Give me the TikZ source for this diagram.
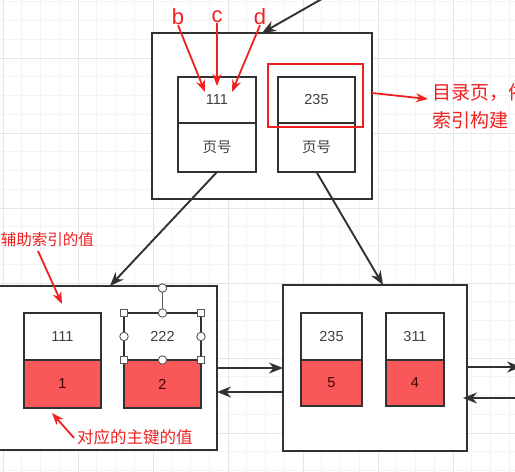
\documentclass[tikz,border=0pt]{standalone}
\usepackage{fontspec}
\setmainfont{Liberation Sans}
\newfontfamily\cjk{Noto Sans CJK SC}
\usetikzlibrary{arrows.meta,calc}
\definecolor{redfill}{RGB}{250,88,88}
\definecolor{annot}{RGB}{240,32,32}
\definecolor{edge}{RGB}{50,50,50}
\definecolor{minorgrid}{RGB}{244,244,244}
\definecolor{majorgrid}{RGB}{230,230,230}
\tikzset{
  frame/.style={draw=edge, line width=2.3pt, fill=white, inner sep=0pt, outer sep=0pt},
  cell/.style={draw=edge, line width=2pt, fill=white, inner sep=0pt, outer sep=0pt,
    font=\fontsize{14.5}{16}\selectfont, text=black!75},
  redcell/.style={cell, fill=redfill, text=black!75!red},
  link/.style={draw=edge, line width=1.9pt, -{Stealth[length=14pt,width=11pt]}},
  notetext/.style={text=annot, inner sep=0pt},
  noteline/.style={draw=annot, line width=1.8pt, -{Stealth[length=12pt,width=9pt]}},
  letter/.style={text=annot, font=\fontsize{22}{22}\selectfont, inner sep=0pt},
  hsq/.style={draw=black!65, fill=white, line width=0.9pt, minimum size=7.5pt, inner sep=0pt},
  hcirc/.style={draw=black!65, fill=white, line width=0.9pt, circle, minimum size=8.5pt, inner sep=0pt},
}
\begin{document}
\begin{tikzpicture}[x=1pt,y=-1pt]
\useasboundingbox (0,0) rectangle (515,472);
\clip (0,0) rectangle (515,472);
\fill[white] (0,0) rectangle (515,472);
% background grid
\foreach \i in {0,...,28} \draw[minorgrid, line width=0.6pt] ({3+\i*18.75},0) -- ++(0,472);
\foreach \i in {0,...,26} \draw[minorgrid, line width=0.6pt] (0,{-17+\i*18.75}) -- ++(515,0);
\foreach \i in {0,...,7} \draw[majorgrid, line width=0.8pt] ({3+\i*75},0) -- ++(0,472);
\foreach \i in {0,...,7} \draw[majorgrid, line width=0.8pt] (0,{-17+\i*75}) -- ++(515,0);

% top page
\node[frame, minimum width=220pt, minimum height=166pt] (top) at (262,116) {};
\node[cell, minimum width=78pt, minimum height=46pt] (a1) at (217,100) {111};
\node[cell, minimum width=78pt, minimum height=49pt] (a2) at (217,147.5) {\cjk 页号};
\node[cell, minimum width=77pt, minimum height=46pt] (b1) at (316.5,100) {235};
\node[cell, minimum width=77pt, minimum height=49pt] (b2) at (316.5,147.5) {\cjk 页号};
\node[draw=annot, line width=2.2pt, minimum width=95pt, minimum height=63pt, inner sep=0pt] (hl) at (315.5,95.5) {};

% bottom-left page
\node[frame, minimum width=222pt, minimum height=164pt] (bl) at (106,368) {};
\node[cell, minimum width=77pt, minimum height=47pt] (c1) at (62.5,336.5) {111};
\node[redcell, minimum width=77pt, minimum height=48pt] (c2) at (62.5,384) {1};
\node[cell, minimum width=77pt, minimum height=47pt] (d1) at (162.5,336.5) {222};
\node[redcell, minimum width=77pt, minimum height=48pt] (d2) at (162.5,384) {2};

% bottom-right page
\node[frame, minimum width=184pt, minimum height=166pt] (br) at (375,368) {};
\node[cell, minimum width=61pt, minimum height=47pt] (e1) at (331.5,336.5) {235};
\node[redcell, minimum width=61pt, minimum height=46pt] (e2) at (331.5,383) {5};
\node[cell, minimum width=58pt, minimum height=47pt] (f1) at (415,336.5) {311};
\node[redcell, minimum width=58pt, minimum height=46pt] (f2) at (415,383) {4};

% selection handles on 222
\draw[black!65, line width=0.9pt] (d1.north) -- ++(0,-25) node[hcirc] (rot) {};
\foreach \a in {north west,north east,south west,south east} \node[hsq] at (d1.\a) {};
\foreach \a in {north,south,west,east} \node[hcirc] at (d1.\a) {};

% connectors
\coordinate (src) at (327,-4);
\draw[link] (src) -- (top.north);
\draw[link] (a2.south) -- ($(bl.north)+(4,0)$);
\draw[link] (b2.south) -- ($(br.north)+(8,0)$);
\draw[link] (bl.east) -- (br.west);
\draw[link] ($(br.west)+(0,24)$) -- ($(bl.east)+(0,24)$);
\coordinate (outA) at (521,367);
\coordinate (outB) at (530,398);
\draw[link] (br.east |- outA) -- (outA);
\draw[link] (outB) -- ($(br.east |- outB)+(-4,0)$);

% annotations
\node[letter] (lb) at (178,17) {b};
\node[letter] (lc) at (217,17) {c};
\node[letter] (ld) at (260,17) {d};
\coordinate (pb) at (205,92);
\coordinate (pc) at (217,86);
\coordinate (pd) at (232,92);
\draw[noteline] (lb.south) -- (pb);
\draw[noteline] (lc.south) -- (pc);
\draw[noteline] (ld.south) -- (pd);

\node[notetext, font=\cjk\fontsize{19}{19}\selectfont, anchor=west] (n1) at (432,93) {目录页，依};
\node[notetext, font=\cjk\fontsize{19}{19}\selectfont, anchor=west] (n2) at (432,120) {索引构建};
\coordinate (hs) at (372,93);
\draw[noteline] (hs) -- ($(n1.west)+(-4,6)$);

\node[notetext, font=\cjk\fontsize{15.5}{15.5}\selectfont, anchor=east] (n3) at (94,240) {辅助索引的值};
\coordinate (t3) at (38,251);
\coordinate (p3) at (62,304);
\draw[noteline] (t3) -- (p3);

\node[notetext, font=\cjk\fontsize{16.5}{16.5}\selectfont, anchor=west] (n4) at (77,437) {对应的主键的值};
\coordinate (p4) at (52,413);
\draw[noteline] ($(n4.west)+(-3,1)$) -- (p4);
\end{tikzpicture}
\end{document}
